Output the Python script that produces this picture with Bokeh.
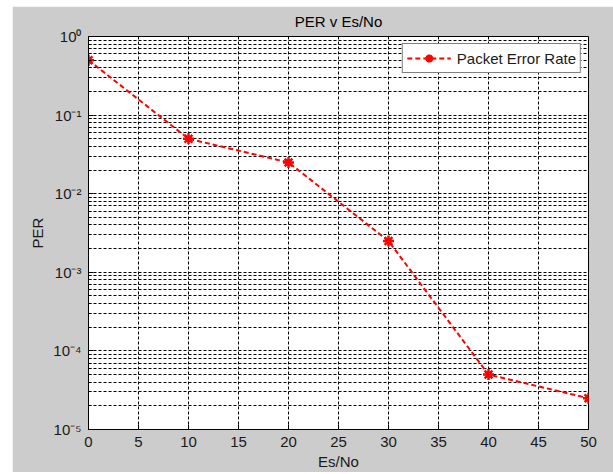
from bokeh.plotting import figure
from bokeh.models import FixedTicker, CustomJSTickFormatter, Range1d
from bokeh.embed import file_html
from bokeh.resources import INLINE

# Data
es_no = [0, 10, 20, 30, 40, 50]
per = [0.5, 0.05, 0.025, 0.0025, 5e-5, 2.5e-5]
series_name = "Packet Error Rate"

x_ticks = [0, 5, 10, 15, 20, 25, 30, 35, 40, 45, 50]
y_ticks = [1e-5, 1e-4, 1e-3, 1e-2, 1e-1, 1e0]
y_tick_labels = ["10⁰", "10⁻¹", "10⁻²", "10⁻³", "10⁻⁴", "10⁻⁵"]

FONT = "Liberation Sans"

p = figure(width=601, height=466, y_axis_type="log",
           x_range=Range1d(0, 50), y_range=Range1d(1e-5, 1),
           output_backend="svg", toolbar_location=None,
           title="PER v Es/No", x_axis_label="Es/No", y_axis_label="PER",
           margin=(6, 0, 2, 12))

p.min_border_left = 76
p.min_border_right = 25
p.min_border_top = 30
p.min_border_bottom = 43
p.border_fill_color = "#cccccc"
p.background_fill_color = "white"
p.outline_line_color = "black"
p.outline_line_width = 1

p.title.align = "center"
p.title.vertical_align = "top"
p.title.text_font = FONT
p.title.text_font_size = "15px"
p.title.text_font_style = "normal"
p.title.text_color = "black"
p.title.standoff = 9

minor = [m * d for d in y_ticks[:-1] for m in range(2, 10)]
p.xaxis.ticker = FixedTicker(ticks=x_ticks)
p.yaxis.ticker = FixedTicker(ticks=y_ticks, minor_ticks=minor)
p.yaxis.formatter = CustomJSTickFormatter(args=dict(labels=y_tick_labels), code="""
    const i = Math.round(-Math.log10(tick));
    return labels[i];
""")

for ax in (p.xaxis[0], p.yaxis[0]):
    ax.axis_line_color = "black"
    ax.major_tick_in = 5
    ax.major_tick_out = 0
    ax.minor_tick_in = 3
    ax.minor_tick_out = 0
    ax.major_tick_line_color = "black"
    ax.minor_tick_line_color = "black"
    ax.major_label_text_font = FONT
    ax.major_label_text_font_size = "15px"
    ax.major_label_text_color = "#1a1a1a"
    ax.axis_label_text_font = FONT
    ax.axis_label_text_font_size = "15px"
    ax.axis_label_text_font_style = "normal"
    ax.axis_label_text_color = "#1a1a1a"
p.xaxis.major_label_standoff = 7
p.xaxis.axis_label_standoff = 3
p.yaxis.major_label_standoff = 7
p.yaxis.axis_label_standoff = 4

p.xgrid.grid_line_color = "black"
p.xgrid.grid_line_dash = "3 2"
p.xgrid.grid_line_width = 1
p.ygrid.grid_line_color = "black"
p.ygrid.grid_line_dash = "3 2"
p.ygrid.grid_line_width = 1
p.ygrid.minor_grid_line_color = "black"
p.ygrid.minor_grid_line_dash = "3 2"
p.ygrid.minor_grid_line_width = 1

p.line(es_no, per, line_color="red", line_width=2, line_dash="5 3", legend_label=series_name)
p.scatter(es_no, per, marker="asterisk", size=11, line_color="red", line_width=2.5, legend_label=series_name)

p.legend.location = "top_right"
p.legend.border_line_color = "black"
p.legend.border_line_width = 1
p.legend.background_fill_color = "white"
p.legend.background_fill_alpha = 1
p.legend.label_text_font = FONT
p.legend.label_text_font_size = "15px"
p.legend.label_text_color = "#1a1a1a"
p.legend.glyph_width = 44
p.legend.margin = 7
p.legend.padding = 4
p.legend.spacing = 0
p.legend.label_standoff = 6

open("out.html", "w").write(file_html(p, INLINE))
